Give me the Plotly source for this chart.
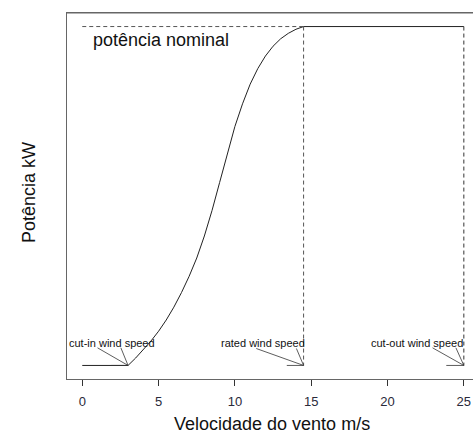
import plotly.graph_objects as go

# Power curve (normalised power vs wind speed)
wind_speed = [0, 3, 3.5, 4, 4.5, 5, 5.5, 6, 6.5, 7, 7.5, 8, 8.5, 9, 9.5, 10,
              10.5, 11, 11.5, 12, 12.5, 13, 13.5, 14, 14.5, 25]
power = [0, 0, 0.022, 0.046, 0.072, 0.101, 0.134, 0.172, 0.215, 0.263, 0.317,
         0.382, 0.457, 0.54, 0.625, 0.705, 0.772, 0.83, 0.876, 0.913, 0.942,
         0.964, 0.98, 0.992, 1.0, 1.0]

cut_in = 3
rated = 14.5
cut_out = 25
p_nominal = 1.0

x_ticks = [0, 5, 10, 15, 20, 25]

labels = ["cut-in wind speed", "rated wind speed", "cut-out wind speed"]
label_at = [cut_in, rated, cut_out]
label_x = [1.95, 11.85, 21.95]
label_y = [0.066, 0.066, 0.066]
leader_far = [-2.0, -3.1, -2.05]
leader_near = [-0.47, -0.47, -0.52]
leader_h = [-1.1, -1.1, -1.15]
leader_y = [0.052, 0.05, 0.052]

W, H = 473, 436
ml, mr, mt, mb = 67, 0, 13, 57
pw, ph = W - ml - mr, H - mt - mb

fig = go.Figure()

LC = "#222222"
fig.add_trace(go.Scatter(x=wind_speed, y=power, mode="lines",
                         line=dict(color=LC, width=1),
                         hoverinfo="skip", showlegend=False))

dash = "4px,3px"
fig.add_trace(go.Scatter(x=[0, rated], y=[p_nominal, p_nominal], mode="lines",
                         line=dict(color="#555555", width=1, dash=dash), showlegend=False))
fig.add_trace(go.Scatter(x=[rated, rated], y=[p_nominal, 0], mode="lines",
                         line=dict(color="#555555", width=1, dash=dash), showlegend=False))
fig.add_trace(go.Scatter(x=[cut_out, cut_out], y=[p_nominal, 0], mode="lines",
                         line=dict(color="#333333", width=1, dash=dash), showlegend=False))

for i, v in enumerate(label_at):
    fig.add_trace(go.Scatter(
        x=[v + leader_far[i], v, v + leader_near[i], None, v + leader_h[i], v],
        y=[leader_y[i], 0, leader_y[i], None, 0, 0], mode="lines",
        line=dict(color="#333333", width=0.8), showlegend=False))

FONT = "Liberation Sans, Arial"
annotations = []
for i, t in enumerate(labels):
    annotations.append(dict(x=label_x[i], y=label_y[i], text=t, showarrow=False,
                            xref="x", yref="y",
                            font=dict(family=FONT, size=11, color="#111111")))
annotations.append(dict(x=0.55, y=0.96, text="potência nominal", showarrow=False,
                        xref="x", yref="y", xanchor="left",
                        font=dict(family=FONT, size=18, color="#111111")))
annotations.append(dict(x=(272 - ml) / pw, y=(H - mb - 424) / ph,
                        text="Velocidade do vento m/s", showarrow=False,
                        xref="paper", yref="paper", yanchor="middle",
                        font=dict(family=FONT, size=18, color="#111111")))
annotations.append(dict(x=(17 - ml) / pw, y=(H - mb - 193) / ph,
                        text="Potência kW", showarrow=False, textangle=-90,
                        xref="paper", yref="paper",
                        font=dict(family=FONT, size=18, color="#111111")))

fig.update_layout(
    width=W, height=H,
    margin=dict(l=ml, r=mr, t=mt, b=mb),
    plot_bgcolor="white", paper_bgcolor="white",
    annotations=annotations,
    showlegend=False,
    shapes=[dict(type="line", xref="paper", yref="paper", x0=0, x1=1, y0=1, y1=1,
                 line=dict(color="#666666", width=1))],
    xaxis=dict(range=[-1.0, 25.6], tickvals=x_ticks, ticktext=[str(t) for t in x_ticks],
               showgrid=False, zeroline=False, showline=True, mirror=True,
               linecolor="#666666", linewidth=1, ticks="outside", ticklen=6,
               ticklabelstandoff=4,
               tickcolor="#333333", tickfont=dict(family=FONT, size=13, color="#2a2a3a")),
    yaxis=dict(range=[-0.04, 1.04], showticklabels=False, ticks="", showgrid=False,
               zeroline=False, showline=True, linecolor="#666666", linewidth=1, mirror=False),
)

fig.write_html("out.html")
